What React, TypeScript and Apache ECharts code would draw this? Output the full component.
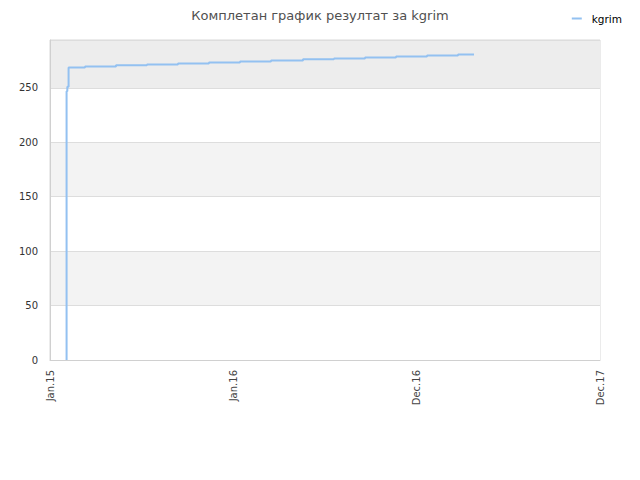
import { useEffect, useRef } from "react";
import * as echarts from "echarts";

// x in days from the left edge (Jan.15), span of three label intervals
const xTickLabels = ["Jan.15", "Jan.16", "Dec.16", "Dec.17"];
const xSpan = 1095;

// step points: day, cumulative result
const stepDays = [33, 33, 34.5, 37, 69.7, 131.4, 193.1, 254.8, 316.5, 378.3, 440, 503.7, 565.4, 627.2, 688.9, 750.6, 812.3, 844.2];
const stepValues = [0, 247, 251, 268.7, 269.7, 270.7, 271.6, 272.5, 273.4, 274.3, 275.2, 276.2, 277.1, 278.0, 278.9, 279.8, 280.7, 280.7];

const seriesName = "kgrim";
const titleText = "Комплетан график резултат за kgrim";

export default function App() {
  const ref = useRef<HTMLDivElement>(null);

  useEffect(() => {
    document.body.style.margin = "0";
    if (!ref.current) return;
    const chart = echarts.init(ref.current, null, { renderer: "svg" });

    chart.setOption({
      animation: false,
      backgroundColor: "#ffffff",
      textStyle: { fontFamily: "DejaVu Sans" },
      title: {
        text: titleText,
        left: "center",
        top: 4,
        textStyle: { fontSize: 13, fontWeight: "normal", color: "#505050" },
      },
      legend: {
        right: 13,
        top: 8,
        icon: "rect",
        itemWidth: 10,
        itemHeight: 2,
        textStyle: { fontSize: 10.5, color: "#000000", padding: [0, 0, 0, 5] },
        data: [seriesName],
      },
      grid: {
        left: 50,
        right: 40,
        top: 40,
        bottom: 120,
        show: true,
        borderColor: "#d8d8d8",
        borderWidth: 1,
      },
      xAxis: {
        type: "value",
        min: 0,
        max: xSpan,
        interval: 365,
        axisLine: { show: true, lineStyle: { color: "#d0d0d0" } },
        axisTick: { show: false },
        splitLine: { show: false },
        axisLabel: {
          rotate: 90,
          fontSize: 10,
          color: "#444444",
          margin: 10,
          formatter: (v: number) => xTickLabels[Math.round(v / 365)] ?? "",
        },
      },
      yAxis: {
        type: "value",
        min: 0,
        max: 294,
        interval: 50,
        axisLine: { show: true, lineStyle: { color: "#d0d0d0" } },
        axisTick: { show: false },
        axisLabel: {
          fontSize: 10,
          color: "#333333",
          margin: 12,
          showMaxLabel: false,
        },
        splitLine: { show: true, lineStyle: { color: "#dddddd" } },
        splitArea: {
          show: true,
          areaStyle: {
            color: ["#ffffff", "#f3f3f3", "#ffffff", "#f3f3f3", "#ffffff", "#ededed"],
          },
        },
      },
      series: [
        {
          name: seriesName,
          type: "line",
          step: "end",
          data: stepDays.map((d, i) => [d, stepValues[i]]),
          showSymbol: false,
          lineStyle: { color: "#93c1f1", width: 2 },
          itemStyle: { color: "#93c1f1" },
        },
      ],
    });

    return () => chart.dispose();
  }, []);

  return <div ref={ref} style={{ width: 640, height: 480 }} />;
}
